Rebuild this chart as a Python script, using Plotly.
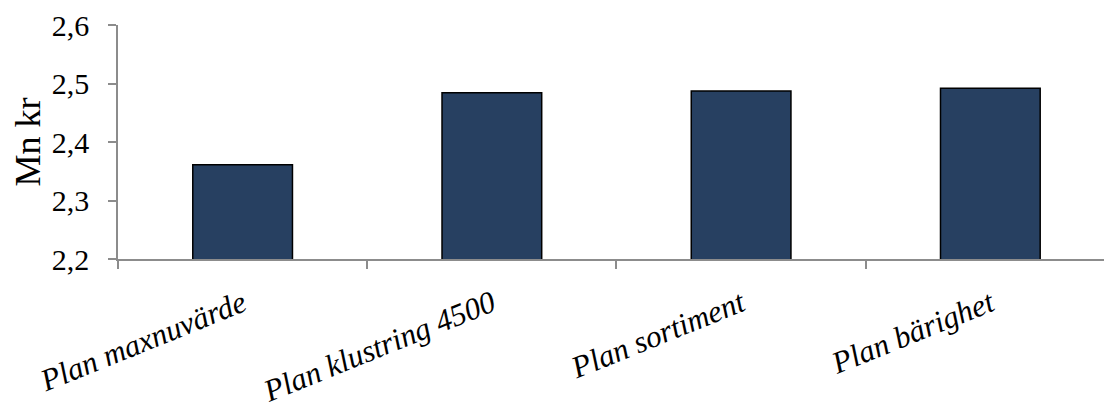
import plotly.graph_objects as go

# Kostnad per plan (miljoner kronor)
plans = ["Plan maxnuvärde", "Plan klustring 4500", "Plan sortiment", "Plan bärighet"]
values = [2.361, 2.484, 2.487, 2.492]

y_ticks = [2.2, 2.3, 2.4, 2.5, 2.6]

bar_color = "#274061"
axis_color = "#8c8c8c"
serif = "Liberation Serif, Times New Roman, serif"

fig = go.Figure(
    go.Bar(
        x=plans,
        y=values,
        width=0.4,
        marker=dict(color=bar_color, line=dict(color="#000000", width=1.5)),
    )
)

fig.update_layout(
    width=1104,
    height=412,
    margin=dict(l=118, r=0, t=25, b=153),
    paper_bgcolor="white",
    plot_bgcolor="white",
    separators=", ",
    showlegend=False,
    font=dict(family=serif, color="black", size=30),
)

fig.update_xaxes(
    type="category",
    range=[-0.5, 3.456],
    tickson="boundaries",
    ticks="outside",
    ticklen=8,
    tickwidth=1.5,
    tickcolor=axis_color,
    showline=True,
    linecolor=axis_color,
    linewidth=1.5,
    showgrid=False,
    tickangle=-22,
    tickfont=dict(family=serif, size=31, style="italic", color="black"),
    ticklabelstandoff=13,
)

fig.update_yaxes(
    range=[2.2, 2.6],
    tickvals=y_ticks,
    tickformat=".1f",
    ticks="outside",
    ticklen=8,
    tickwidth=1.5,
    tickcolor=axis_color,
    showline=True,
    linecolor=axis_color,
    linewidth=1.5,
    showgrid=False,
    zeroline=False,
    tickfont=dict(family=serif, size=30, color="black"),
    ticklabelstandoff=13,
    title=dict(text="Mn kr", font=dict(family=serif, size=36, color="black"), standoff=0),
)

fig.write_html("out.html")
